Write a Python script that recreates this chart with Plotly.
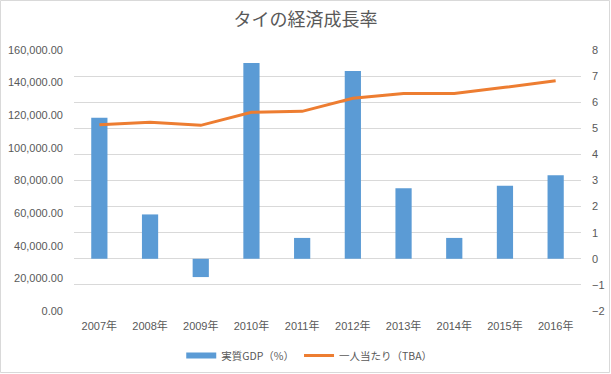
import plotly.graph_objects as go

years = ["2007年", "2008年", "2009年", "2010年", "2011年", "2012年", "2013年", "2014年", "2015年", "2016年"]
gdp_growth = [5.4, 1.7, -0.7, 7.5, 0.8, 7.2, 2.7, 0.8, 2.8, 3.2]
per_capita = [114200, 115700, 113800, 121800, 122400, 130400, 133400, 133400, 137100, 141200]
series_names = ["実質GDP（%）", "一人当たり（TBA）"]

W, H = 611, 374
L, R, T, B = 74, 30, 50, 63
pw, ph = W - L - R, H - T - B

txt = "#595959"
grid = "#D9D9D9"
blue = "#5B9BD5"
orange = "#ED7D31"
fam = "Liberation Sans, Noto Sans CJK JP, sans-serif"

fig = go.Figure()
fig.add_trace(go.Bar(
    x=years, y=gdp_growth, name=series_names[0], yaxis="y", showlegend=False,
    legendgroup="gdp", marker=dict(color=blue, line=dict(width=0)),
))
# legend entry for the bar series (wide flat swatch like the original)
fig.add_trace(go.Scatter(
    x=[None], y=[None], name=series_names[0], yaxis="y", legendgroup="gdp",
    mode="lines", line=dict(color=blue, width=6), hoverinfo="skip",
))
fig.add_trace(go.Scatter(
    x=years, y=per_capita, name=series_names[1], yaxis="y2",
    mode="lines", line=dict(color=orange, width=3),
))

fig.update_layout(
    template="none",
    width=W, height=H,
    margin=dict(l=L, r=R, t=T, b=B, autoexpand=False),
    paper_bgcolor="white", plot_bgcolor="white",
    font=dict(family=fam, size=11, color=txt),
    title=dict(text="タイの経済成長率", x=0.5, xanchor="center", y=1 - 20 / H, yanchor="middle",
               font=dict(family="Noto Sans CJK JP, sans-serif", size=18, color=txt)),
    bargap=0.68,
    showlegend=True,
    legend=dict(orientation="h", x=0.464, xanchor="center", y=-0.115, yanchor="top",
                font=dict(family="Noto Sans CJK JP, sans-serif", size=10.5, color=txt),
                traceorder="normal", bgcolor="rgba(0,0,0,0)", itemwidth=30),
    xaxis=dict(showgrid=False, showline=False, ticks="", tickfont=dict(size=11, color=txt),
               zeroline=False, automargin=False, ticklabelstandoff=7),
    yaxis=dict(side="right", range=[-2, 8], dtick=1, tick0=0, showgrid=True, gridcolor=grid,
               gridwidth=1, zeroline=False, showline=False, ticks="", automargin=False,
               tickfont=dict(size=11, color=txt), ticklabelstandoff=10),
    yaxis2=dict(side="left", overlaying="y", range=[0, 160000], dtick=20000, tickformat=",.2f",
                showgrid=False, zeroline=False, showline=False, ticks="", automargin=False,
                tickfont=dict(size=11, color=txt), ticklabelstandoff=10),
    shapes=[dict(type="rect", xref="paper", yref="paper",
                 x0=-(L - 0.5) / pw, x1=1 + (R - 1.5) / pw,
                 y0=-(B - 1.5) / ph, y1=1 + (T - 0.5) / ph,
                 line=dict(color="#D9D9D9", width=1), fillcolor="rgba(0,0,0,0)", layer="below")],
)

fig.write_html("out.html", config={"displayModeBar": False},
               post_script="document.body.style.margin='0';document.body.style.overflow='hidden';")
